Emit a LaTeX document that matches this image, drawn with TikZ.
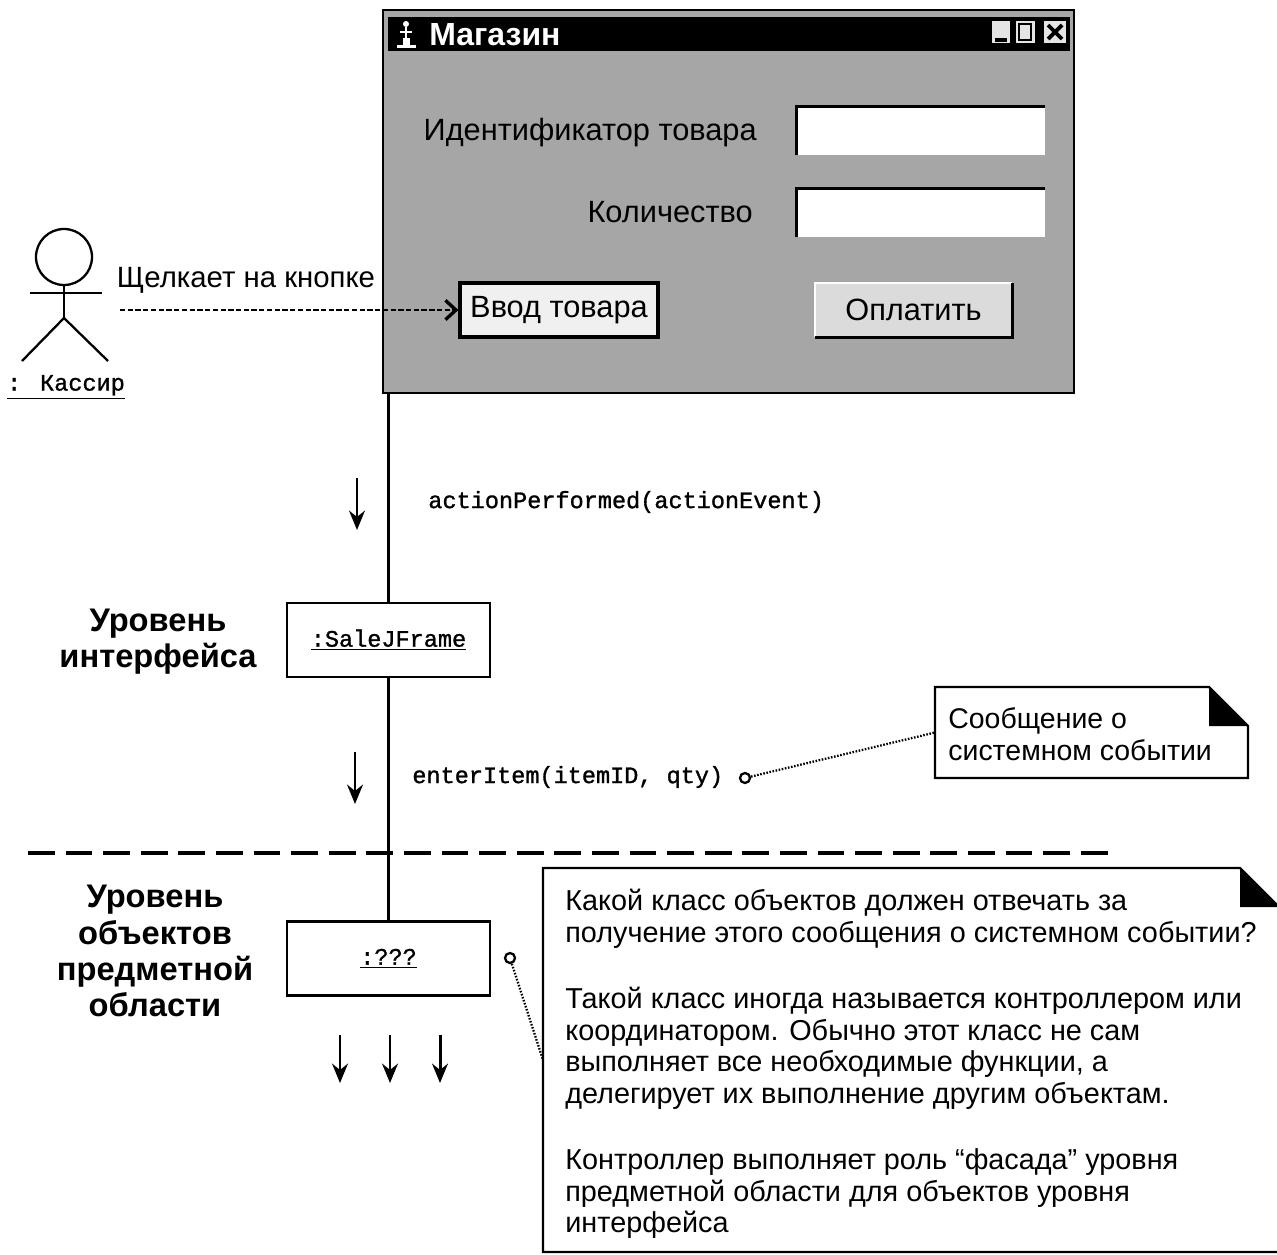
\documentclass[tikz,border=0pt]{standalone}
\usepackage{fontspec}
\setmainfont{Liberation Sans}
\setmonofont{Liberation Mono}
\newfontfamily\msgfamily{Liberation Mono}[FakeBold=1.2]
\usepackage{tikz}
\usetikzlibrary{positioning, calc, arrows.meta}

\newcommand{\msgfont}{\msgfamily\fontsize{13.4}{16}\selectfont}
\newcommand{\guifont}{\fontsize{17.5}{20}\selectfont}

% UML note with a folded corner: name, left, top, right, bottom
\newcommand{\notebox}[5]{%
    \draw[note_edge] (#2,#5) -- (#2,#3) -- ({#4-39},#3) -- (#4,{#3+39}) -- (#4,#5) -- cycle;
    \fill ({#4-39},#3) -- ({#4-39},{#3+39}) -- (#4,{#3+39}) -- cycle;
    % left entry point for the note links
    \coordinate (#1-w) at (#2,{(#3+#5)/2});
}

\begin{document}
\begin{tikzpicture}[
        x=0.02cm, y=-0.02cm,
        >=Stealth,
        life_line/.style={line width=1.6pt},
        msg_arrow/.style={-{Stealth[length=11pt, width=9pt]}, line width=1.7pt},
        click_arrow/.style={-{Straight Barb[length=6pt, width=11pt, line width=1.9pt]}, line width=1.4pt, dash pattern=on 3pt off 1.4pt},
        note_edge/.style={line width=1.4pt, fill=white},
        note_link/.style={line width=1.3pt, dash pattern=on 0.9pt off 0.9pt},
        dot_mark/.style={circle, draw, line width=1.3pt, fill=white, minimum size=0.2cm, inner sep=0pt},
        obj_box/.style={draw, line width=1.5pt, fill=white, minimum width=4.06cm, minimum height=1.48cm, font=\msgfont},
        msg_text/.style={font=\msgfont, anchor=west, inner sep=0pt},
        layer_label/.style={font=\bfseries\fontsize{18.6}{20.6}\selectfont, align=center},
        field_box/.style={fill=white, minimum width=4.96cm, minimum height=0.96cm, inner sep=0pt},
        layer_line/.style={line width=2.8pt, dash pattern=on 15.3pt off 6.1pt}
    ]
    \useasboundingbox (0,0) rectangle (1277,1254);
    \clip (0,0) rectangle (1277,1254);

    % =========================================================================
    % 1. SHOP WINDOW
    % =========================================================================
    \node[draw, line width=1pt, fill=black!35, minimum width=13.82cm, minimum height=7.66cm, inner sep=0pt] (Win) at (728.5,201.5) {};

    % Title bar
    \node[fill=black, minimum width=13.64cm, minimum height=0.7cm, inner sep=0pt] (TitleBar) at (729,34) {};
    \node[font=\bfseries\fontsize{18.2}{20}\selectfont, text=white, anchor=west, inner sep=0pt] (Title) at (429,35) {Магазин};
    % Small application icon
    \fill[white] (397,45) rectangle (416,48);
    \fill[white] (403,38) rectangle (410,45);
    \fill[white] (406,24) circle [radius=3];
    \draw[white, line width=1pt] (406,27) -- (406,38);
    \draw[white, line width=1pt] (400,32) -- (412,32);

    % Window control buttons
    \node[fill=black!10, minimum width=0.36cm, minimum height=0.46cm, inner sep=0pt] (MinBtn) at (1001,32) {};
    \node[fill=black!10, minimum width=0.38cm, minimum height=0.46cm, inner sep=0pt] (MaxBtn) at (1025,32) {};
    \node[fill=black!10, minimum width=0.44cm, minimum height=0.46cm, inner sep=0pt] (CloseBtn) at (1055,32) {};
    \fill (995,38) rectangle (1007,42);
    \draw[line width=1.6pt] (1019,24) rectangle (1031,40);
    \draw[line width=2.2pt] (1048,25) -- (1062,39);
    \draw[line width=2.2pt] (1048,39) -- (1062,25);

    % Input fields
    \node[font=\guifont, anchor=east, inner sep=0pt] (IdLabel) at (757,133) {Идентификатор товара};
    \node[field_box] (IdField) at (921,131) {};
    \draw[line width=2pt] (IdField.south west) -- (IdField.north west) -- (IdField.north east);

    \node[font=\guifont, anchor=east, inner sep=0pt] (QtyLabel) at (753,212) {Количество};
    \node[field_box] (QtyField) at (921,213) {};
    \draw[line width=2pt] (QtyField.south west) -- (QtyField.north west) -- (QtyField.north east);

    % Buttons
    \node[draw, line width=1.8pt, fill=black!6, minimum width=3.96cm, minimum height=1.08cm, font=\guifont] (EnterBtn) at (559,310) {Ввод товара};
    \node[fill=black!14, minimum width=3.94cm, minimum height=1.08cm, font=\guifont] (PayBtn) at (913.5,310) {Оплатить};
    \draw[white, line width=1.2pt] (PayBtn.south west) -- (PayBtn.north west) -- (PayBtn.north east);
    \draw[line width=1.8pt] (PayBtn.south west) -- (PayBtn.south east) -- (PayBtn.north east);


    % =========================================================================
    % 2. CASHIER ACTOR
    % =========================================================================
    \draw[line width=1.3pt] (64,257) circle [radius=28];
    \draw[line width=1.3pt] (30,293) -- (102,293);
    \draw[line width=1.3pt] (64,285) -- (64,318) coordinate (hip);
    \draw[line width=1.3pt] (hip) -- (22,361);
    \draw[line width=1.3pt] (hip) -- (108,361);
    \node[font=\msgfont, inner sep=0pt] (Cashier) at (66,387) {\underline{: Кассир}};

    \node[font=\fontsize{16.7}{19}\selectfont, inner sep=0pt] (ClickLabel) at (246,280) {Щелкает на кнопке};
    \coordinate (ClickStart) at (120,310);
    \draw[click_arrow] (ClickStart) -- (EnterBtn.west);


    % =========================================================================
    % 3. OBJECTS AND LIFELINE
    % =========================================================================
    \node[obj_box] (SaleFrame) at (388.5,640) {\underline{:SaleJFrame}};
    \node[obj_box] (Ctrl) at (388.5,958.5) {\underline{:???}};

    \draw[life_line] (SaleFrame.north) -- (SaleFrame.north |- Win.south);
    \draw[life_line] (SaleFrame.south) -- (Ctrl.north);

    % Layer captions
    \node[layer_label] (UiLayer) at (158,642) {Уровень\\интерфейса};
    \node[layer_label] (DomainLayer) at (155,951) {Уровень\\объектов\\предметной\\области};

    % Layer boundary
    \draw[layer_line] (28,853) -- (1115,853);


    % =========================================================================
    % 4. MESSAGES
    % =========================================================================
    \node[msg_text] (ActMsg) at (428,502) {actionPerformed(actionEvent)};
    \coordinate (ActArrow) at (357,478);
    \draw[msg_arrow] (ActArrow) -- ++(0,52);

    \node[msg_text] (EnterMsg) at (412,777) {enterItem(itemID, qty)};
    \coordinate (EnterArrow) at (355,752);
    \draw[msg_arrow] (EnterArrow) -- ++(0,52);

    % Onward messages from the controller
    \draw[msg_arrow] (340,1035) -- ++(0,48);
    \draw[msg_arrow] (390,1035) -- ++(0,48);
    \draw[msg_arrow] (440,1035) -- ++(0,48);


    % =========================================================================
    % 5. NOTES
    % =========================================================================
    \notebox{SysNote}{935}{687}{1248}{778}
    \node[font=\fontsize{16.2}{18}\selectfont, align=left, anchor=west, inner sep=0pt] (SysNoteText) at (948,734) {Сообщение о\\системном событии};
    \node[dot_mark] (EnterDot) at (745,778) {};
    \draw[note_link] (EnterDot) -- (SysNote-w);

    \notebox{CtrlNote}{543}{868}{1279}{1252}
    \node[font=\fontsize{16.4}{17.9}\selectfont, align=left, anchor=north west, inner sep=0pt] (CtrlNoteText) at (565,889) {%
        Какой класс объектов должен отвечать за\\
        получение этого сообщения о системном событии?\\[20pt]
        Такой класс иногда называется контроллером или\\
        координатором. Обычно этот класс не сам\\
        выполняет все необходимые функции, а\\
        делегирует их выполнение другим объектам.\\[20pt]
        Контроллер выполняет роль “фасада” уровня\\
        предметной области для объектов уровня\\
        интерфейса};
    \node[dot_mark] (CtrlDot) at (510,958) {};
    \draw[note_link] (CtrlDot) -- (CtrlNote-w);

\end{tikzpicture}
\end{document}
